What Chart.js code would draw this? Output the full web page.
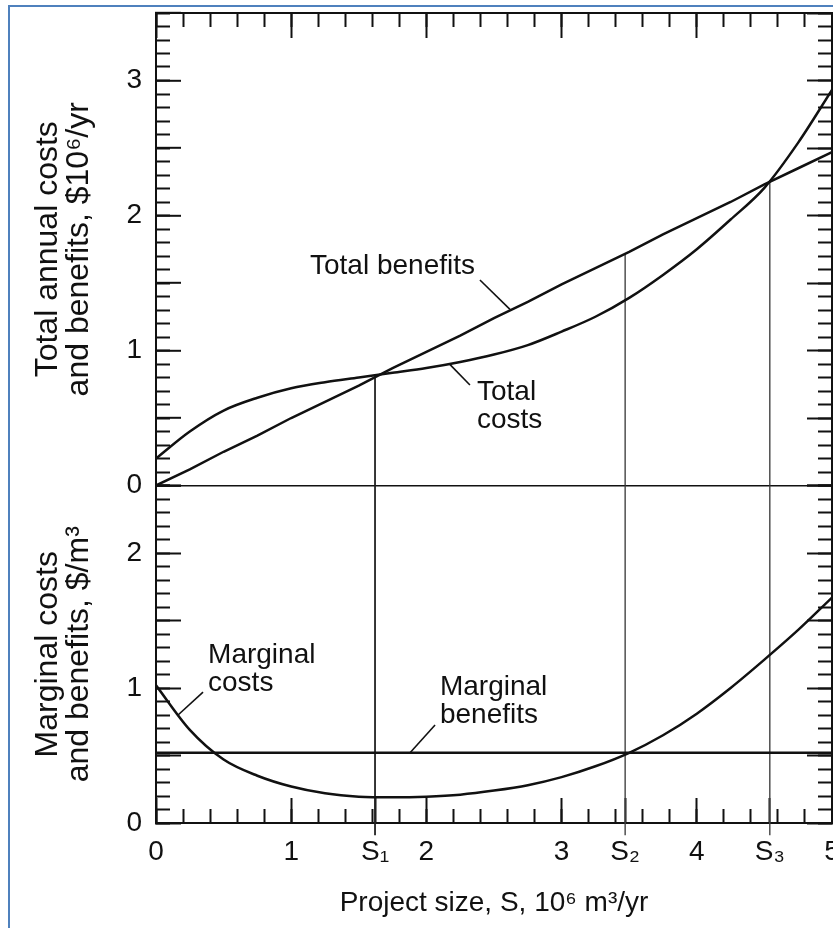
<!DOCTYPE html>
<html>
<head>
<meta charset="utf-8">
<script src="https://cdn.jsdelivr.net/npm/chart.js@4.4.0/dist/chart.umd.min.js"></script>
<style>
  html, body { margin: 0; padding: 0; background: #fff; }
  #wrap { position: relative; width: 833px; height: 928px; overflow: hidden; }
  #frame { position: absolute; left: 8px; top: 5px; right: -10px; bottom: -10px;
           border-left: 2px solid #4f81bd; border-top: 2px solid #4f81bd; pointer-events: none; }
  canvas { position: absolute; left: 0; top: 0; }
</style>
</head>
<body>
<div id="wrap">
  <div id="frame"></div>
  <canvas id="c" width="833" height="928"></canvas>
</div>
<script>
// ---------------- data ----------------
const sizes            = [0, 0.25, 0.5, 0.75, 1.0, 1.25, 1.5, 1.75, 2.0, 2.25, 2.5, 2.75, 3.0, 3.25, 3.5, 3.75, 4.0, 4.25, 4.5, 4.75, 5.0];
const totalBenefits    = [0, 0.12, 0.25, 0.37, 0.5, 0.62, 0.74, 0.87, 0.99, 1.11, 1.24, 1.36, 1.49, 1.61, 1.73, 1.86, 1.98, 2.10, 2.23, 2.35, 2.47];
const totalCosts       = [0.2, 0.40, 0.555, 0.65, 0.72, 0.765, 0.80, 0.835, 0.87, 0.915, 0.97, 1.04, 1.14, 1.25, 1.39, 1.56, 1.75, 1.97, 2.205, 2.54, 2.93];
const marginalBenefits = [0.52, 0.52, 0.52, 0.52, 0.52, 0.52, 0.52, 0.52, 0.52, 0.52, 0.52, 0.52, 0.52, 0.52, 0.52, 0.52, 0.52, 0.52, 0.52, 0.52, 0.52];
const marginalCosts    = [1.02, 0.69, 0.47, 0.35, 0.27, 0.22, 0.195, 0.19, 0.195, 0.21, 0.24, 0.28, 0.34, 0.42, 0.52, 0.65, 0.81, 1.0, 1.21, 1.43, 1.67];

const optimumSizes     = [1.62, 3.47, 4.54];          // S1, S2, S3
const optimumLabels    = ['S₁', 'S₂', 'S₃'];
const optimumTopValues = [0.82, 1.72, 2.26];          // where each vertical starts in the upper panel

const xTickValues      = [0, 1, 2, 3, 4, 5];
const upperTickValues  = [0, 1, 2, 3];
const lowerTickValues  = [0, 1, 2];

const xTitle      = 'Project size, S, 10⁶ m³/yr';
const upperTitle  = ['Total annual costs', 'and benefits, $10⁶/yr'];
const lowerTitle  = ['Marginal costs', 'and benefits, $/m³'];

// ---------------- styling ----------------
const FONT = "'Liberation Sans', Arial, Helvetica, sans-serif";
const INK = '#111';
const MAJOR = -25, MINOR = -14;
Chart.defaults.font.family = FONT;
Chart.defaults.font.size = 28;
Chart.defaults.color = INK;

const upperMax = 3.5, lowerMax = 2.5, xMax = 5;
const sLineOverhang = 0.09;
const sLineColors = ['#222', '#444', '#444'];
const sLineWidths = [1.8, 1.4, 1.4];

function pts(ys) { return sizes.map((s, i) => ({ x: s, y: ys[i] })); }
const curve = { borderColor: INK, borderWidth: 2.5, pointRadius: 0, fill: false };

const datasets = [
  Object.assign({ label: 'Total benefits', data: pts(totalBenefits), yAxisID: 'y' }, curve),
  Object.assign({ label: 'Total costs', data: pts(totalCosts), yAxisID: 'y', cubicInterpolationMode: 'monotone' }, curve),
  Object.assign({ label: 'Marginal benefits', data: pts(marginalBenefits), yAxisID: 'y2' }, curve),
  Object.assign({ label: 'Marginal costs', data: pts(marginalCosts), yAxisID: 'y2', cubicInterpolationMode: 'monotone' }, curve)
];
optimumSizes.forEach((s, i) => {
  datasets.push({ label: optimumLabels[i] + ' (upper)', data: [{ x: s, y: optimumTopValues[i] }, { x: s, y: 0 }],
                  yAxisID: 'y', borderColor: sLineColors[i], borderWidth: sLineWidths[i], pointRadius: 0 });
  datasets.push({ label: optimumLabels[i] + ' (lower)', data: [{ x: s, y: lowerMax }, { x: s, y: -sLineOverhang }],
                  yAxisID: 'y2', borderColor: sLineColors[i], borderWidth: sLineWidths[i], pointRadius: 0, clip: false });
});

// annotation texts with leader lines (data coordinates)
const annotations = [
  { axis: 'y',  x: 1.139, y: 1.567, lines: ['Total benefits'],        leader: [[2.396, 1.522], [2.618, 1.305]] },
  { axis: 'y',  x: 2.374, y: 0.633, lines: ['Total', 'costs'],        leader: [[2.322, 0.744], [2.175, 0.895]] },
  { axis: 'y2', x: 0.385, y: 1.185, lines: ['Marginal', 'costs'],     leader: [[0.348, 0.970], [0.163, 0.80]] },
  { axis: 'y2', x: 2.100, y: 0.948, lines: ['Marginal', 'benefits'],  leader: [[2.064, 0.726], [1.879, 0.52]] }
];

const annotationPlugin = {
  id: 'annotationTexts',
  afterDatasetsDraw(chart) {
    const ctx = chart.ctx, xs = chart.scales.x;
    ctx.save();
    ctx.font = '28px ' + FONT;
    ctx.fillStyle = INK;
    ctx.strokeStyle = INK;
    ctx.lineWidth = 1.6;
    ctx.textAlign = 'left';
    ctx.textBaseline = 'alphabetic';
    annotations.forEach(a => {
      const ys = chart.scales[a.axis];
      const px = xs.getPixelForValue(a.x), py = ys.getPixelForValue(a.y);
      a.lines.forEach((t, i) => ctx.fillText(t, px, py + i * 28));
      ctx.beginPath();
      ctx.moveTo(xs.getPixelForValue(a.leader[0][0]), ys.getPixelForValue(a.leader[0][1]));
      ctx.lineTo(xs.getPixelForValue(a.leader[1][0]), ys.getPixelForValue(a.leader[1][1]));
      ctx.stroke();
    });
    ctx.restore();
  }
};

// helpers for tick-only axes
function tickAxis(opts, len, step, size, horizontal) {
  return Object.assign({
    type: 'linear', display: true,
    ticks: { display: false, stepSize: step },
    grid: { drawOnChartArea: false, drawTicks: true, tickLength: len, tickColor: INK, tickWidth: 2 },
    border: { display: false },
    afterFit(sc) {
      if (horizontal) sc.height = size; else sc.width = size;
      sc.paddingLeft = sc.paddingRight = sc.paddingTop = sc.paddingBottom = 0;
    }
  }, opts);
}
function noPad(sc) { sc.paddingLeft = sc.paddingRight = sc.paddingTop = sc.paddingBottom = 0; }

const yTitleFont = { size: 32, lineHeight: 0.97 };

new Chart(document.getElementById('c'), {
  type: 'line',
  data: { datasets },
  plugins: [annotationPlugin],
  options: {
    responsive: false,
    animation: false,
    layout: { padding: { top: 13, right: 1, bottom: 0, left: 0 } },
    plugins: { legend: { display: false }, tooltip: { enabled: false } },
    scales: {
      x: {
        type: 'linear', position: 'bottom', min: 0, max: xMax, weight: 1,
        afterBuildTicks(sc) {
          sc.ticks = xTickValues.concat(optimumSizes).sort((a, b) => a - b).map(v => ({ value: v }));
        },
        ticks: {
          autoSkip: false, maxRotation: 0, minRotation: 0, padding: 37,
          callback(v) {
            const k = optimumSizes.indexOf(v);
            return k >= 0 ? optimumLabels[k] : String(v);
          }
        },
        grid: { drawOnChartArea: false, tickLength: MAJOR, tickColor: INK, tickWidth: 2 },
        border: { display: true, width: 2, color: INK },
        title: { display: true, text: xTitle, padding: { top: 0, bottom: 8 } },
        afterFit(sc) { sc.height = 105; noPad(sc); }
      },
      xMinor: tickAxis({ position: 'bottom', min: 0, max: xMax, weight: 0 }, MINOR, 0.2, 0, true),
      xTop: tickAxis({ position: 'top', min: 0, max: xMax, weight: 1, border: { display: true, width: 2, color: INK } }, MAJOR, 1, 0, true),
      xTopMinor: tickAxis({ position: 'top', min: 0, max: xMax, weight: 0 }, MINOR, 0.2, 0, true),

      y: {
        type: 'linear', position: 'left', stack: 'left', stackWeight: upperMax, weight: 1.1,
        min: 0, max: upperMax,
        ticks: { stepSize: 0.5, padding: 39, callback: v => upperTickValues.includes(v) ? String(v) : '' },
        grid: {
          drawOnChartArea: true, lineWidth: 1.6,
          color: c => (c.tick && c.tick.value === 0) ? INK : 'rgba(0,0,0,0)',
          tickLength: MAJOR, tickColor: INK, tickWidth: 2
        },
        border: { display: true, width: 2, color: INK },
        title: { display: true, text: upperTitle, padding: { top: 33, bottom: 0 }, font: yTitleFont },
        afterFit(sc) { sc.width = 156; noPad(sc); }
      },
      y2: {
        type: 'linear', position: 'left', stack: 'left', stackWeight: lowerMax, weight: 1,
        min: 0, max: lowerMax,
        ticks: { stepSize: 0.5, padding: 39, callback: v => lowerTickValues.includes(v) ? String(v) : '' },
        grid: { drawOnChartArea: false, tickLength: MAJOR, tickColor: INK, tickWidth: 2 },
        border: { display: true, width: 2, color: INK },
        title: { display: true, text: lowerTitle, padding: { top: 33, bottom: 0 }, font: yTitleFont },
        afterFit(sc) { sc.width = 156; noPad(sc); }
      },
      yMinor:  tickAxis({ position: 'left', stack: 'leftMinor', stackWeight: upperMax, weight: 0.1, min: 0, max: upperMax }, MINOR, 0.1, 0, false),
      y2Minor: tickAxis({ position: 'left', stack: 'leftMinor', stackWeight: lowerMax, weight: 0,   min: 0, max: lowerMax }, MINOR, 0.1, 0, false),

      yR:  tickAxis({ position: 'right', stack: 'right', stackWeight: upperMax, weight: 0,   min: 0, max: upperMax, border: { display: true, width: 2, color: INK } }, MAJOR, 0.5, 0, false),
      y2R: tickAxis({ position: 'right', stack: 'right', stackWeight: lowerMax, weight: 0.1, min: 0, max: lowerMax, border: { display: true, width: 2, color: INK } }, MAJOR, 0.5, 0, false),
      yRMinor:  tickAxis({ position: 'right', stack: 'rightMinor', stackWeight: upperMax, weight: 0.2, min: 0, max: upperMax }, MINOR, 0.1, 0, false),
      y2RMinor: tickAxis({ position: 'right', stack: 'rightMinor', stackWeight: lowerMax, weight: 0.3, min: 0, max: lowerMax }, MINOR, 0.1, 0, false)
    }
  }
});
</script>
</body>
</html>
